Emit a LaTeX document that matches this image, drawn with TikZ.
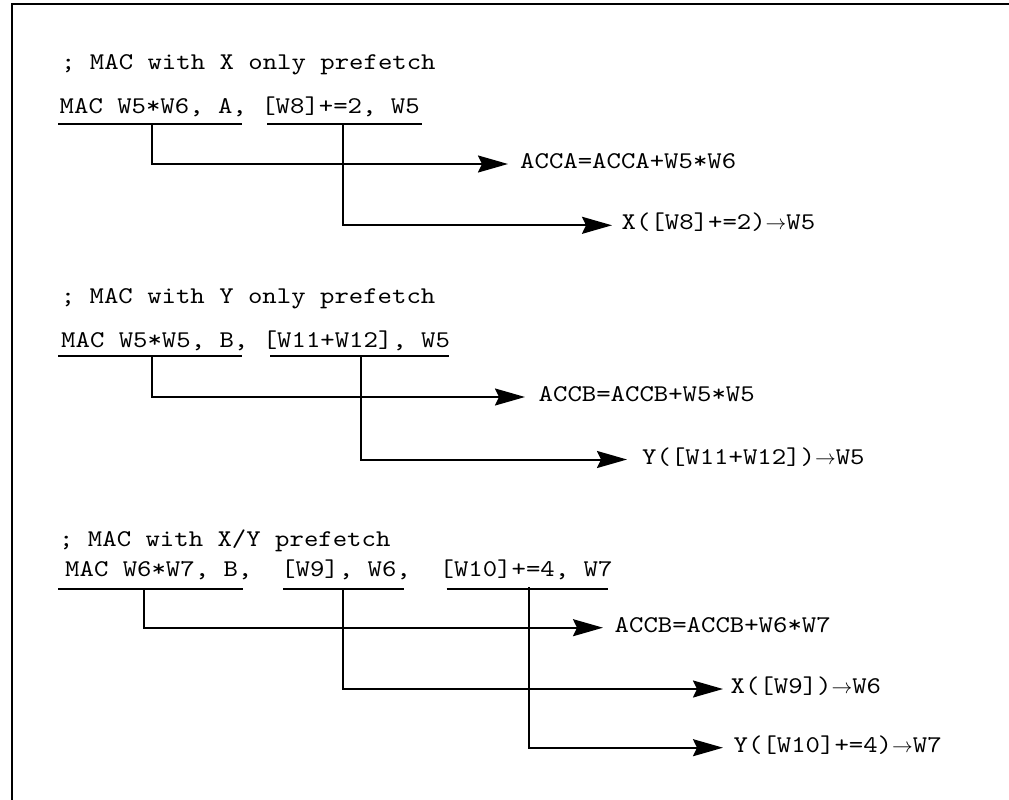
\documentclass[tikz,border=0pt]{standalone}
\usepackage{fontspec}
\newfontfamily\codefont[FakeStretch=1.143]{lmmono10-regular.otf}
\usetikzlibrary{arrows.meta}
\newcommand{\yields}{{\fontsize{22}{22}\selectfont$\rightarrow$}}
\tikzset{
  code/.style={font=\codefont\fontsize{24}{28}\selectfont, inner sep=0pt, anchor=base west},
  result/.style={font=\codefont\fontsize{24}{28}\selectfont, inner sep=0pt, anchor=west,
                 text height=14pt, text depth=5pt},
  rule/.style={line width=2pt},
  link/.style={line width=2pt, -{Stealth[length=30pt,width=17pt,inset=4pt]}},
  frame/.style={line width=2.3pt}
}
\begin{document}
\begin{tikzpicture}[x=1pt, y=-1pt]
  \useasboundingbox (0,0) rectangle (1009,800);
  \draw[frame] (12,800) -- (12,4) -- (1009,4);

  % --- MAC with X only prefetch
  \node[code] (c1) at (61,70) {; MAC with X only prefetch};
  \node[code] (i1) at (59.5,113) {MAC W5*W6, A, [W8]+=2, W5};
  \draw[rule] (58.3,124) -- (241.7,124);
  \draw[rule] (267.3,124) -- (422.3,124);
  \coordinate (s1) at (151.7,124);
  \coordinate (s2) at (343.3,124);
  \node[result] (l1) at (520,164) {ACCA=ACCA+W5*W6};
  \node[result] (l2) at (621.5,225.3) {X([W8]+=2)\yields W5};
  \draw[link] (s1) |- ([xshift=-12pt]l1.west);
  \draw[link] (s2) |- ([xshift=-9.5pt]l2.west);

  % --- MAC with Y only prefetch
  \node[code] (c2) at (60.7,303) {; MAC with Y only prefetch};
  \node[code] (i2) at (61,347) {MAC W5*W5, B, [W11+W12], W5};
  \draw[rule] (58.3,356) -- (241.7,356);
  \draw[rule] (270,356) -- (449,356);
  \coordinate (s3) at (152.3,356);
  \coordinate (s4) at (360.7,356);
  \node[result] (l3) at (538.5,397) {ACCB=ACCB+W5*W5};
  \node[result] (l4) at (642,459.5) {Y([W11+W12])\yields W5};
  \draw[link] (s3) |- ([xshift=-13.5pt]l3.west);
  \draw[link] (s4) |- ([xshift=-15pt]l4.west);

  % --- MAC with X/Y prefetch
  \node[code] (c3) at (59,546) {; MAC with X/Y prefetch};
  \node[code] (i3) at (65,576) {MAC W6*W7, B,\ \ [W9], W6,\ \ [W10]+=4, W7};
  \draw[rule] (58.3,589) -- (243.3,589);
  \draw[rule] (283.3,589) -- (404,589);
  \draw[rule] (446.7,589) -- (608.3,589);
  \coordinate (s5) at (144,589);
  \coordinate (s6) at (343.3,589);
  \coordinate (s7) at (529,587);
  \node[result] (l5) at (614.5,627.7) {ACCB=ACCB+W6*W7};
  \node[result] (l6) at (730.5,689) {X([W9])\yields W6};
  \node[result] (l7) at (733.5,747.7) {Y([W10]+=4)\yields W7};
  \draw[link] (s5) |- ([xshift=-11.5pt]l5.west);
  \draw[link] (s6) |- ([xshift=-7.5pt]l6.west);
  \draw[link] (s7) |- ([xshift=-10.5pt]l7.west);
\end{tikzpicture}
\end{document}
